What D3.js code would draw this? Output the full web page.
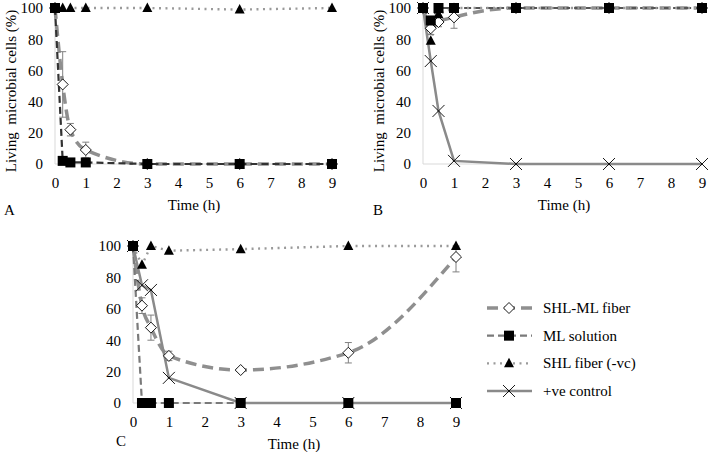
<!DOCTYPE html>
<html><head><meta charset="utf-8">
<script src="https://cdn.jsdelivr.net/npm/d3@7"></script>
<style>
html,body{margin:0;padding:0;background:#fff;}
svg{display:block;}
</style></head>
<body>
<svg id="chart" width="709" height="452"></svg>
<script>
// ---- data ----
const times = [0, 0.25, 0.5, 1, 3, 6, 9];
const xTicks = [0, 1, 2, 3, 4, 5, 6, 7, 8, 9];
const yTicks = [0, 20, 40, 60, 80, 100];
const seriesNames = ["SHL-ML fiber", "ML solution", "SHL fiber (-vc)", "+ve control"];

// Panel A
const shlmlA = [100, 51, 22, 9, 0, 0, 0];
const shlmlErrA = [0, 21, 4, 5, 0, 0, 0];
const mlA = [100, 2, 1, 1, 0, 0, 0];
const shlA = [100, 100, 100, 100, 100, 99, 100];

// Panel B
const shlmlB = [100, 87, 91, 94, 100, 100, 100];
const shlmlErrB = [0, 4, 3, 7, 0, 0, 0];
const mlB = [100, 92, 100, 100, 100, 100, 100];
const shlB = [100, 79, 96, 100, 100, 100, 100];
const posB = [100, 66, 34, 2, 0, 0, 0];

// Panel C
const shlmlC = [100, 62, 48, 30, 21, 32, 93];
const shlmlErrC = [0, 5, 8, 3, 1, 6.5, 9.5];
const mlC = [100, 0, 0, 0, 0, 0, 0];
const shlC = [100, 88, 100, 97, 98, 100, 100];
const posC = [100, 75, 72, 16, 0, 0, 0];

// ---- styles ----
const FONT = '"Liberation Serif"';
const styles = {
  shlml: {color:"#8f8f8f", width:3.5, dash:"11,6", curve:d3.curveMonotoneX},
  ml:    {color:"#7a7a7a", width:2.2, dash:"7,4", curve:d3.curveLinear},
  shl:   {color:"#9a9a9a", width:2.4, dash:"2,4.5", curve:d3.curveLinear},
  pos:   {color:"#8a8a8a", width:2.5, dash:null, curve:d3.curveLinear}
};

const svg = d3.select("#chart");

function marker(g, type, x, y) {
  if (type === "shlml") {
    g.append("path").attr("d", `M${x},${y-5.5}L${x+5.5},${y}L${x},${y+5.5}L${x-5.5},${y}Z`)
      .attr("fill", "#fff").attr("stroke", "#000").attr("stroke-width", 0.9);
  } else if (type === "ml") {
    g.append("rect").attr("x", x-5).attr("y", y-5).attr("width", 10).attr("height", 10).attr("fill", "#000");
  } else if (type === "shl") {
    g.append("path").attr("d", `M${x},${y-5.5}L${x+5},${y+4}L${x-5},${y+4}Z`).attr("fill", "#000");
  } else if (type === "pos") {
    g.append("path").attr("d", `M${x-6},${y-6}L${x+6},${y+6}M${x-6},${y+6}L${x+6},${y-6}`)
      .attr("stroke", "#000").attr("stroke-width", 0.9).attr("fill", "none");
  }
}

function txt(sel) {
  return sel.style("font-family", FONT).style("font-size", "15px").attr("fill", "#000");
}

function panel(cfg) {
  const x = d3.scaleLinear().domain([0, 9]).range([cfg.x0, cfg.x1]);
  const y = d3.scaleLinear().domain([0, 100]).range([cfg.y0, cfg.y1]);
  const g = svg.append("g");

  // axis lines (faint)
  g.append("line").attr("x1", x(0)).attr("x2", x(0)).attr("y1", y(0)).attr("y2", y(100))
    .attr("stroke", "#d9d9d9").attr("stroke-width", 1);
  g.append("line").attr("x1", x(0)).attr("x2", x(9)).attr("y1", y(0)).attr("y2", y(0))
    .attr("stroke", "#d9d9d9").attr("stroke-width", 1);

  // x ticks
  const xa = g.append("g").attr("transform", `translate(0,${y(0)})`)
    .call(d3.axisBottom(x).tickValues(xTicks).tickSize(0).tickPadding(13).tickFormat(d3.format("d")));
  xa.attr("font-family", null).attr("font-size", null);
  xa.select(".domain").remove();
  txt(xa.selectAll("text"));

  const ya = g.append("g").attr("transform", `translate(${x(0)},0)`)
    .call(d3.axisLeft(y).tickValues(yTicks).tickSize(0).tickPadding(12).tickFormat(d3.format("d")));
  ya.attr("font-family", null).attr("font-size", null);
  ya.select(".domain").remove();
  txt(ya.selectAll("text"));

  // titles
  txt(g.append("text")).attr("x", cfg.xtX).attr("y", cfg.xtY).attr("text-anchor", "middle").text("Time (h)");
  if (cfg.ytX !== undefined) {
    txt(g.append("text")).attr("transform", `translate(${cfg.ytX},${cfg.ytY}) rotate(-90)`)
      .attr("text-anchor", "middle").style("white-space", "pre")
      .text("Living  microbial cells (%)");
  }
  txt(g.append("text")).attr("x", cfg.lbX).attr("y", cfg.lbY).text(cfg.label);

  // lines
  ["shlml", "ml", "shl", "pos"].forEach(k => {
    const vals = cfg.series[k];
    if (!vals) return;
    const st = styles[k];
    const line = d3.line().x((d, i) => x(times[i])).y(d => y(d)).curve(st.curve);
    const p = g.append("path").attr("d", line(vals)).attr("fill", "none")
      .attr("stroke", (cfg.colors && cfg.colors[k]) || st.color).attr("stroke-width", st.width);
    if (st.dash) p.attr("stroke-dasharray", st.dash);
  });

  // error bars
  if (cfg.err) {
    cfg.err.forEach((e, i) => {
      if (!e) return;
      const v = cfg.series.shlml[i];
      const cx = x(times[i]);
      const top = y(Math.min(100, v + e)), bot = y(v - e);
      g.append("line").attr("x1", cx).attr("x2", cx).attr("y1", top).attr("y2", bot)
        .attr("stroke", "#808080").attr("stroke-width", 1);
      [top, bot].forEach(yy => g.append("line").attr("x1", cx-3.5).attr("x2", cx+3.5)
        .attr("y1", yy).attr("y2", yy).attr("stroke", "#808080").attr("stroke-width", 1));
    });
  }

  // markers
  ["pos", "shlml", "shl", "ml"].forEach(k => {
    const vals = cfg.series[k];
    if (!vals) return;
    vals.forEach((v, i) => marker(g, k, x(times[i]), y(v)));
  });
}

panel({x0:55, x1:332, y0:164, y1:8, xtX:194, xtY:210, ytX:16, ytY:91, lbX:4, lbY:215, label:"A",
  series:{shlml:shlmlA, ml:mlA, shl:shlA}, err:shlmlErrA, colors:{ml:"#333"}});
panel({x0:423, x1:702, y0:164, y1:8, xtX:564, xtY:210, ytX:384, ytY:91, lbX:373, lbY:215, label:"B",
  series:{shlml:shlmlB, ml:mlB, shl:shlB, pos:posB}, err:shlmlErrB, colors:{ml:"#555"}});
panel({x0:133, x1:456, y0:403, y1:246, xtX:294, xtY:449, lbX:116, lbY:446, label:"C",
  series:{shlml:shlmlC, ml:mlC, shl:shlC, pos:posC}, err:shlmlErrC});

// legend
const legKeys = ["shlml", "ml", "shl", "pos"];
const legY = d3.scalePoint().domain(legKeys).range([308, 391]);
const lg = svg.append("g");
legKeys.forEach((k, i) => {
  const yy = legY(k), st = styles[k];
  const p = lg.append("line").attr("x1", 487).attr("x2", 532).attr("y1", yy).attr("y2", yy)
    .attr("stroke", st.color).attr("stroke-width", st.width);
  if (st.dash) p.attr("stroke-dasharray", st.dash);
  marker(lg, k, 509, yy);
  txt(lg.append("text")).attr("x", 543).attr("y", yy + 5).text(seriesNames[i]);
});
</script>
</body></html>
